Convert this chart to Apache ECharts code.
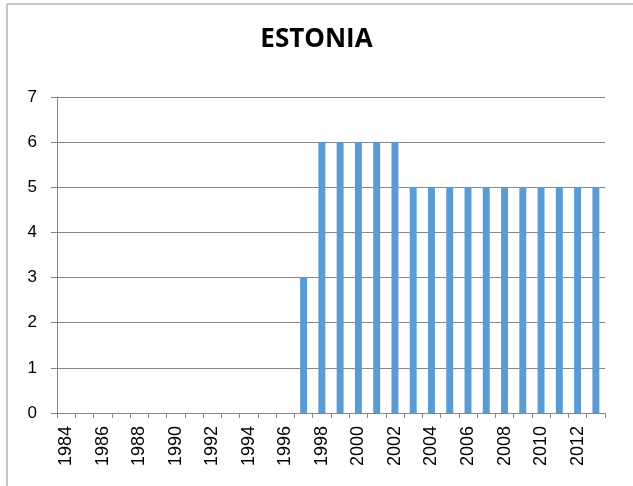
<!DOCTYPE html>
<html>
<head>
<meta charset="utf-8">
<script src="https://cdn.jsdelivr.net/npm/echarts@6/dist/echarts.min.js"></script>
<style>
  html, body { margin: 0; padding: 0; background: #fff; }
  #chart { width: 633px; height: 486px; }
</style>
</head>
<body>
<div id="chart"></div>
<script>
var years = [];
for (var y = 1984; y <= 2013; y++) years.push(String(y));
var values = [0,0,0,0,0,0,0,0,0,0,0,0,0,3,6,6,6,6,6,5,5,5,5,5,5,5,5,5,5,5];

var myChart = echarts.init(document.getElementById('chart'));
var option = {
    animation: false,
    title: {
        text: 'ESTONIA',
        left: 'center',
        top: 22,
        textStyle: { fontFamily: 'Open Sans', fontWeight: 'bold', fontSize: 26, color: '#000' }
    },
    graphic: [
        { type: 'line', shape: { x1: 7, y1: 4, x2: 633, y2: 4 }, style: { stroke: '#8c8c8c', lineWidth: 1 } },
        { type: 'line', shape: { x1: 7, y1: 4, x2: 7, y2: 486 }, style: { stroke: '#8c8c8c', lineWidth: 1 } }
    ],
    grid: { left: 57, right: 28, top: 97, bottom: 73 },
    xAxis: {
        type: 'category',
        data: years,
        axisLine: { lineStyle: { color: '#868686' } },
        axisTick: { show: true, interval: 0, length: 5, lineStyle: { color: '#868686' } },
        axisLabel: {
            interval: 1,
            rotate: 90,
            fontFamily: 'Liberation Sans',
            fontSize: 18,
            color: '#000',
            margin: 13
        }
    },
    yAxis: {
        type: 'value',
        min: 0,
        max: 7,
        interval: 1,
        axisLine: { show: true, lineStyle: { color: '#868686' } },
        axisTick: { show: true, length: 6, lineStyle: { color: '#868686' } },
        splitLine: { lineStyle: { color: '#868686' } },
        axisLabel: { fontFamily: 'Liberation Sans', fontSize: 17, color: '#000', margin: 20 }
    },
    series: [
        {
            type: 'bar',
            data: values,
            barCategoryGap: '62%',
            itemStyle: { color: '#5B9BD5' }
        }
    ]
};
myChart.setOption(option);
</script>
</body>
</html>
